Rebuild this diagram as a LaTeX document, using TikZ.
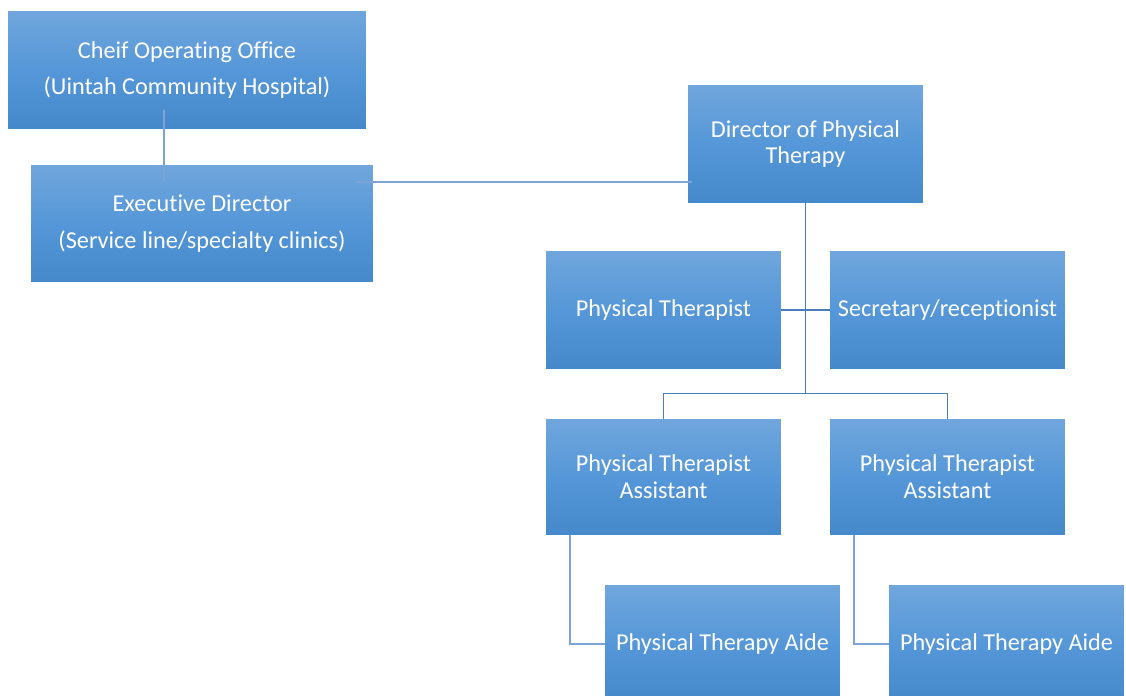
\documentclass[tikz,border=0pt]{standalone}
\usepackage{fontspec}
\setmainfont{Carlito}[Ligatures=NoCommon]
\usetikzlibrary{calc}
\definecolor{boxtop}{RGB}{112,166,220}
\definecolor{boxmid}{RGB}{85,151,216}
\definecolor{boxbot}{RGB}{69,137,202}
\definecolor{linkblue}{RGB}{74,126,187}
\definecolor{linklight}{RGB}{125,164,212}
\tikzset{
    box/.style = {
      rectangle,
      top color=boxtop,
      bottom color=boxbot,
      middle color=boxmid,
      text=white,
      align=center,
      inner sep=0pt,
      minimum width=4.7cm,
      minimum height=2.36cm,
      font=\fontsize{13.8}{15.3}\selectfont
    },
    link/.style = {draw=linkblue, line width=0.8pt},
    softlink/.style = {draw=linklight, line width=0.8pt},
}

\begin{document}
\begin{tikzpicture}[x=0.02cm, y=-0.02cm]
        \clip (0,0) rectangle (1126,696);
        \fill[white] (0,0) rectangle (1126,696);

        % top of the chart
        \node[box, minimum width=7.16cm] (coo) at (187,70) {Cheif Operating Office\\[5.7pt](Uintah Community Hospital)};
        \node[box, minimum width=6.84cm, minimum height=2.34cm] (exec) at (202,223.5) {Executive Director\\[5.7pt](Service line/specialty clinics)};
        \node[box] (dir) at (805.5,144) {Director of Physical\\Therapy};

        % staff
        \node[box] (pt) at (663.5,310) {Physical Therapist};
        \node[box] (sec) at (947.5,310) {Secretary/receptionist};
        \node[box, minimum height=2.32cm] (pta1) at (663.5,477) {Physical Therapist\\Assistant};
        \node[box, minimum height=2.32cm] (pta2) at (947.5,477) {Physical Therapist\\Assistant};
        \node[box] (aide1) at (722.5,644) {Physical Therapy Aide};
        \node[box] (aide2) at (1006.5,644) {Physical Therapy Aide};

        \draw[softlink] ($(coo.south)+(-23,-19)$) -- ($(exec.north)+(-38,16)$);
        \draw[softlink] ($(exec.east)+(-17,-41.5)$) -- ($(dir.west)+(4,38)$);

        \coordinate (bus) at ($(dir.south)+(0,190)$);
        \draw[link] (dir.south) -- (bus);
        \draw[link] (pt.east) -- (sec.west);
        \draw[link] (pta1.north) |- (bus) -| (pta2.north);

        \draw[softlink] ($(pta1.south)+(-93.5,0)$) |- (aide1.west);
        \draw[softlink] ($(pta2.south)+(-93.5,0)$) |- (aide2.west);
\end{tikzpicture}
\end{document}
